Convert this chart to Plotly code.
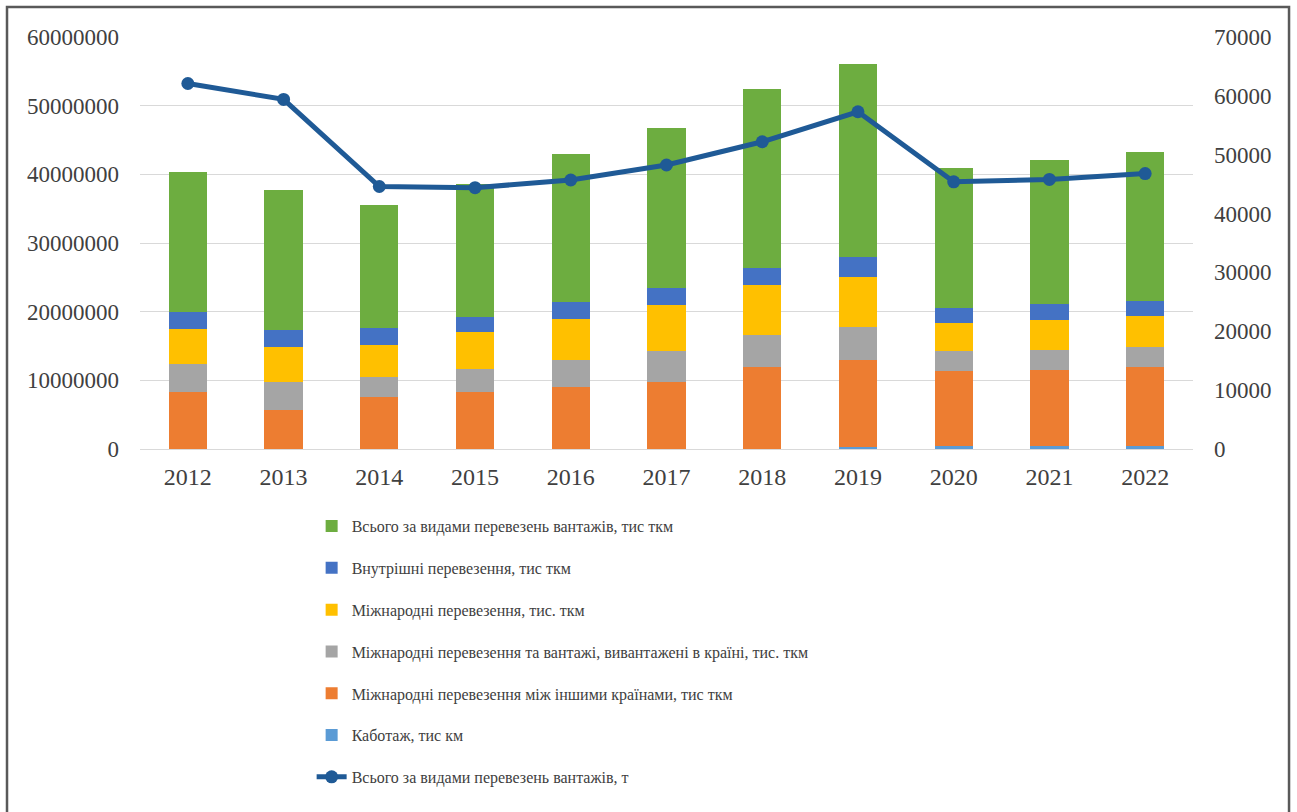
import plotly.graph_objects as go

years = ["2012", "2013", "2014", "2015", "2016", "2017", "2018", "2019", "2020", "2021", "2022"]

# stacked bar segments (тис ткм), bottom to top
kabotazh = [0, 0, 0, 0, 0, 0, 0, 300000, 400000, 400000, 400000]
mizh_inshymy = [8300000, 5700000, 7600000, 8300000, 9100000, 9800000, 12000000, 12600000, 10900000, 11100000, 11600000]
mizh_vyvant = [4100000, 4100000, 2900000, 3400000, 3900000, 4400000, 4600000, 4900000, 2900000, 2900000, 2900000]
mizhnarodni = [5100000, 5100000, 4600000, 5350000, 6000000, 6800000, 7300000, 7300000, 4100000, 4400000, 4500000]
vnutrishni = [2400000, 2400000, 2500000, 2200000, 2450000, 2400000, 2400000, 2900000, 2200000, 2300000, 2200000]
vsogo_tkm = [20400000, 20400000, 17900000, 19300000, 21500000, 23400000, 26200000, 28100000, 20400000, 21000000, 21700000]

# line on secondary axis (т)
vsogo_t = [62100, 59400, 44600, 44400, 45700, 48250, 52200, 57300, 45400, 45800, 46800]

left_ticks = [0, 10000000, 20000000, 30000000, 40000000, 50000000, 60000000]
right_ticks = [0, 10000, 20000, 30000, 40000, 50000, 60000, 70000]

names = [
    "Всього за видами перевезень вантажів, тис ткм",
    "Внутрішні перевезення, тис ткм",
    "Міжнародні перевезення, тис. ткм",
    "Міжнародні перевезення та вантажі, вивантажені в країні, тис. ткм",
    "Міжнародні перевезення між іншими країнами, тис ткм",
    "Каботаж, тис км",
    "Всього за видами перевезень вантажів, т",
]

bar_series = [
    (kabotazh, names[5], "#5B9BD5", 6),
    (mizh_inshymy, names[4], "#ED7D31", 5),
    (mizh_vyvant, names[3], "#A5A5A5", 4),
    (mizhnarodni, names[2], "#FFC000", 3),
    (vnutrishni, names[1], "#4472C4", 2),
    (vsogo_tkm, names[0], "#6DAD40", 1),
]

fig = go.Figure()
for vals, nm, col, rank in bar_series:
    fig.add_trace(go.Bar(
        x=years, y=vals, name=nm, marker=dict(color=col, line=dict(width=0)),
        legendrank=rank, legendgroup=nm, yaxis="y",
    ))

fig.add_trace(go.Scatter(
    x=years, y=vsogo_t, name=names[6], mode="lines+markers",
    line=dict(color="#1F5A96", width=5),
    marker=dict(color="#1F5A96", size=13),
    legendrank=7, legendgroup=names[6], yaxis="y2",
))

font_family = "Liberation Serif"

fig.update_layout(
    width=1297, height=812,
    barmode="stack",
    bargap=0.6,
    plot_bgcolor="white",
    paper_bgcolor="white",
    margin=dict(l=140, r=104, t=37, b=363, autoexpand=False),
    font=dict(family=font_family, color="#404040"),
    xaxis=dict(
        type="category", range=[-0.5, 10.5], showgrid=False, showline=True,
        linecolor="#D9D9D9", linewidth=1,
        tickfont=dict(size=24, color="#404040"), ticks="", ticklabelstandoff=6,
    ),
    yaxis=dict(
        range=[0, 60000000], tickvals=left_ticks, tickformat="d",
        showgrid=True, gridcolor="#D9D9D9", gridwidth=1, zeroline=False,
        tickfont=dict(size=23, color="#404040"), ticklabelstandoff=20,
    ),
    yaxis2=dict(
        range=[0, 70000], tickvals=right_ticks, tickformat="d",
        overlaying="y", side="right", showgrid=False, zeroline=False,
        tickfont=dict(size=23, color="#404040"), ticklabelstandoff=20,
    ),
    legend=dict(
        orientation="v", x=0.163, y=-0.146, xanchor="left", yanchor="top",
        font=dict(size=16, color="#404040", family=font_family),
        tracegroupgap=18, traceorder="grouped",
        bgcolor="rgba(0,0,0,0)",
    ),
    shapes=[dict(
        type="rect", xref="paper", yref="paper",
        x0=-0.1263, x1=1.0912, y0=-0.95, y1=1.0728,
        line=dict(color="#595959", width=2.5), fillcolor="rgba(0,0,0,0)", layer="below",
    )],
)

fig.write_html("out.html")
